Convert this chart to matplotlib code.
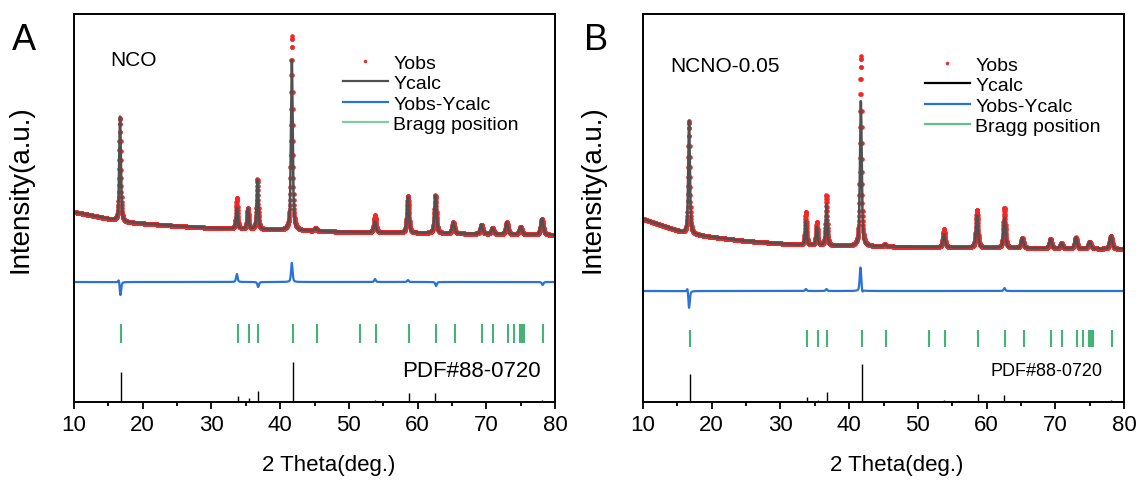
import numpy as np
import matplotlib
matplotlib.use("Agg")
import matplotlib.pyplot as plt
from matplotlib.lines import Line2D

plt.rcParams["font.family"] = ["Liberation Sans", "DejaVu Sans"]

# ---- data (intensity in arbitrary display units) ----
two_theta = np.arange(10, 80.001, 0.02)

peak_pos = [16.7, 33.7, 35.3, 36.7, 41.7, 45.2, 53.8, 58.6, 62.6, 65.2, 69.3, 70.9, 73.0, 75.0, 78.1]
peak_hwhm = [0.14, 0.14, 0.14, 0.14, 0.15, 0.18, 0.18, 0.18, 0.18, 0.2, 0.2, 0.2, 0.2, 0.22, 0.22]

# panel A (NCO)
bgA_x = [10, 13, 17, 25, 30, 40, 50, 60, 70, 80]
bgA_y = [190, 186, 180, 176, 174, 172, 170, 169, 168, 167]
calcA_h = [105, 21, 20, 49, 170, 3, 11, 36, 38, 11, 9, 6, 12, 7.5, 16]
obsA_h = [104, 31, 21, 50, 194, 3, 17, 37, 38, 11, 9, 6, 12, 7.5, 16]
diffA_base = 120
diffA_pos = [16.55, 16.75, 33.7, 36.8, 41.7, 53.8, 58.6, 62.7, 78.2]
diffA_amp = [4, -14, 8, -5, 19, 3, 2, -4, -3]

# panel B (NCNO-0.05)
bgB_x = [10, 13, 16, 20, 25, 33, 40, 50, 65, 80]
bgB_y = [183, 176, 169, 165, 161, 157, 156, 155, 154, 153]
calcB_h = [113, 24, 18, 41, 145, 2, 13, 32, 30, 10, 9, 5, 11, 7, 13]
obsB_h = [113, 33, 23, 50, 190, 2, 18, 38, 40, 10, 9, 5, 11, 7, 13]
diffB_base = 111
diffB_pos = [16.5, 16.7, 33.7, 36.7, 41.65, 41.9, 62.6]
diffB_amp = [5, -18, 2, 2, 24, -3, 3]

bragg_pos = [16.8, 33.8, 35.4, 36.8, 41.8, 45.3, 51.6, 53.9, 58.7, 62.7, 65.4,
             69.4, 71.0, 73.1, 74.1, 74.9, 75.2, 75.5, 78.2]

pdf_pos = [16.8, 33.8, 35.4, 36.8, 41.8, 53.8, 58.7, 62.6, 65.3, 69.3, 73.05, 78.05]
pdfA_h = [30, 6, 4, 11, 40, 2, 9, 9, 1.5, 1.5, 1.5, 2.5]
pdfB_h = [28, 5, 2, 10, 38, 2, 8, 7, 1.5, 1.5, 1.5, 2]


def profile(bg_x, bg_y, pos, hw, h):
    # background plus pseudo-Voigt peaks (half Lorentzian, half Gaussian)
    y = np.interp(two_theta, bg_x, bg_y)
    for c, w, a in zip(pos, hw, h):
        u = (two_theta - c) / w
        y = y + a * (0.5 / (1 + u ** 2) + 0.5 * np.exp(-np.log(2) * u ** 2))
    return y


def diff_curve(base, pos, amp):
    y = np.full_like(two_theta, float(base))
    for c, a in zip(pos, amp):
        u = (two_theta - c) / 0.13
        y = y + a * (0.5 / (1 + u ** 2) + 0.5 * np.exp(-np.log(2) * u ** 2))
    return y


red = "#f02828"
gray = "#505050"
blue = "#2a72d8"
green = "#45b377"

fig = plt.figure(figsize=(11.39, 4.81), dpi=100)
axA = fig.add_axes([74 / 1139, 1 - 403 / 481, 481 / 1139, 388 / 481])
axB = fig.add_axes([643 / 1139, 1 - 403 / 481, 481 / 1139, 388 / 481])

panels = [
    (axA, bgA_x, bgA_y, calcA_h, obsA_h, diffA_base, diffA_pos, diffA_amp, (59, 78), pdfA_h,
     "NCO", (0.075, 0.884), 16, 77.9, gray, "#7ccf9e", 0.559, 0.897, -0.085, 0.53),
    (axB, bgB_x, bgB_y, calcB_h, obsB_h, diffB_base, diffB_pos, diffB_amp, (55, 72), pdfB_h,
     "NCNO-0.05", (0.056, 0.866), 13, 76.9, "black", "#5cc486", 0.586, 0.892, -0.079, 0.528),
]

for (ax, bx, by, ch, oh, db, dp, da, brg, ph, name, npos, pdf_fs, pdf_x, leg_calc,
     leg_green, lx, ly, ylx, xlx) in panels:
    y_obs = profile(bx, by, peak_pos, peak_hwhm, oh)
    y_calc = profile(bx, by, peak_pos, peak_hwhm, ch)
    y_diff = diff_curve(db, dp, da)

    ax.plot(two_theta, y_obs, "o", color=red, markersize=3.3, markeredgewidth=0)
    ax.plot(two_theta, y_calc, color=gray, lw=1.8)
    ax.plot(two_theta, y_diff, color=blue, lw=1.6)
    ax.vlines(bragg_pos, brg[0], brg[1], color=green, lw=1.5)
    ax.vlines(pdf_pos, 0, ph, color="black", lw=1.0)

    ax.text(pdf_x, 31, "PDF#88-0720", ha="right", va="center", fontsize=pdf_fs)
    ax.text(npos[0], npos[1], name, transform=ax.transAxes, fontsize=15,
            ha="left", va="center")

    handles = [
        Line2D([], [], ls="none", marker=".", color=red, markersize=3),
        Line2D([], [], color=leg_calc, lw=1.6),
        Line2D([], [], color=blue, lw=1.6),
        Line2D([], [], color=leg_green, lw=1.6),
    ]
    ax.legend(handles, ["Yobs", "Ycalc", "Yobs-Ycalc", "Bragg position"],
              loc="upper left", bbox_to_anchor=(lx, ly), frameon=False,
              fontsize=14, handlelength=2.3, handletextpad=0.3,
              labelspacing=0.15, borderpad=0, borderaxespad=0, numpoints=1)

    ax.set_xlim(10, 80)
    ax.set_ylim(0, 388)
    ax.set_xticks(np.arange(10, 81, 10))
    ax.set_xticks(np.arange(15, 80, 10), minor=True)
    ax.set_yticks([])
    ax.tick_params(axis="x", which="major", direction="out", length=5, width=1.3,
                   labelsize=16, pad=4)
    ax.tick_params(axis="x", which="minor", direction="out", length=3, width=1.3)
    for sp in ax.spines.values():
        sp.set_linewidth(1.4)
    ax.set_xlabel("2 Theta(deg.)", fontsize=16)
    ax.set_ylabel("Intensity(a.u.)", fontsize=20)
    ax.xaxis.set_label_coords(xlx, -0.135)
    ax.yaxis.set_label_coords(ylx, 0.55)

fig.text(12 / 1139, 1 - 40 / 481, "A", fontsize=26, ha="left", va="center")
fig.text(584 / 1139, 1 - 40 / 481, "B", fontsize=26, ha="left", va="center")

fig.savefig("out.png", dpi=100)
